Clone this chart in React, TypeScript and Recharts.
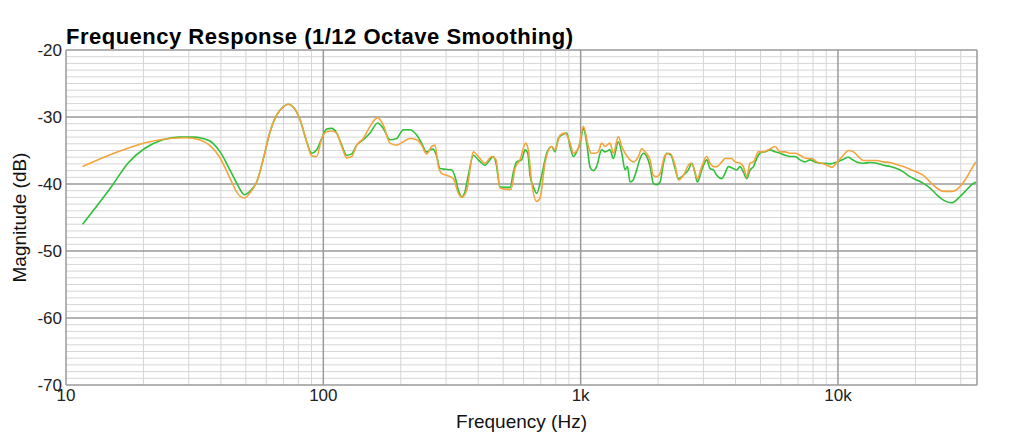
import React from 'react';
import { LineChart, Line, XAxis, YAxis, ReferenceLine, Label } from 'recharts';

// frequency (Hz) / magnitude (dB)
const greenFreq = [
  11.6, 15.2, 17.4, 20.2, 23.8, 27.6, 31.1, 34, 37.2, 40, 43.1, 46.4, 49.3, 52.4, 55.1, 58.5, 62.1, 65.9, 69.9, 73.1,
  76.4, 81.2, 86.2, 90.1, 94.2, 98.6, 103, 107.8, 112.7, 117.9, 123.3, 128.9, 134.8, 143, 151.9, 162.6, 171, 181.5,
  192.8, 204.6, 217, 230.6, 241, 252, 260, 267, 276, 284, 297, 315.5, 325, 334.7, 345, 355.5, 366, 383, 400, 425, 444,
  458, 469, 486, 508, 532, 548, 564, 590, 608, 623, 636, 655, 675, 706, 738, 772, 795, 819, 844, 883, 910, 937, 965,
  995, 1025, 1056, 1088, 1121, 1153, 1207, 1244, 1300, 1340, 1401, 1445, 1488, 1520, 1556, 1600, 1651, 1702, 1754,
  1808, 1861, 1917, 1976, 2036, 2098, 2161, 2245, 2328, 2399, 2508, 2622, 2703, 2784, 2842, 2956, 3090, 3184, 3281,
  3380, 3534, 3640, 3751, 3921, 4040, 4164, 4290, 4421, 4555, 4694, 4831, 4977, 5209, 5446, 5694, 5956, 6229, 6515,
  6812, 7123, 7447, 7790, 8146, 8520, 8908, 9318, 9950, 10500, 10975, 11310, 11826, 12550, 13330, 14150, 15010, 15940,
  16910, 17950, 19050, 20230, 21480, 22800, 24200, 25700, 27700, 29400, 31200, 33100, 34320,
];
const greenDb = [
  -46.0, -40.1, -36.9, -34.7, -33.4, -33.0, -33.0, -33.2, -33.9, -35.4, -37.7, -40.1, -41.6, -40.9, -39.7, -36.2, -32.2,
  -29.7, -28.5, -28.1, -28.5, -30.4, -33.7, -35.4, -34.9, -33.2, -31.8, -31.7, -32.4, -34.2, -35.7, -35.5, -34.2, -33.4,
  -32.4, -30.9, -31.7, -33.4, -33.2, -31.9, -31.9, -32.7, -33.9, -35.2, -34.9, -34.8, -35.9, -37.7, -37.8, -37.9, -38.9,
  -40.9, -41.9, -41.1, -38.7, -35.7, -36.4, -37.2, -36.4, -35.9, -36.9, -40.4, -40.5, -40.5, -38.2, -36.7, -36.4, -34.9,
  -35.4, -38.7, -40.4, -41.4, -38.7, -35.4, -34.4, -35.2, -33.2, -32.7, -32.4, -34.4, -35.9, -35.2, -33.9, -31.7, -33.9,
  -37.5, -38.0, -37.4, -34.9, -35.2, -34.9, -36.2, -33.7, -35.4, -37.9, -37.4, -39.7, -39.4, -37.9, -36.2, -35.4, -35.9,
  -37.4, -39.9, -40.1, -39.7, -36.9, -35.4, -35.7, -37.7, -39.2, -38.7, -37.9, -36.9, -38.4, -39.7, -37.9, -36.4, -37.7,
  -37.9, -38.7, -39.2, -38.4, -37.4, -37.7, -37.9, -37.4, -38.2, -39.2, -37.9, -37.4, -36.2, -35.4, -35.2, -34.9, -35.2,
  -35.4, -35.7, -35.9, -35.9, -36.4, -36.7, -36.4, -36.7, -36.9, -36.9, -37.0, -36.7, -36.3, -36.0, -36.3, -36.7, -36.9,
  -36.8, -36.9, -37.2, -37.4, -37.7, -38.2, -38.9, -39.4, -39.9, -40.6, -41.6, -42.4, -42.8, -42.1, -41.1, -40.1, -39.7,
];

const orangeFreq = [
  11.6, 14.3, 17.6, 21.1, 25.2, 29.3, 33, 36.1, 39.4, 43.1, 46.4, 49.3, 52.4, 55.6, 58.5, 62.1, 65.9, 69.9, 73.1, 76.4,
  81.2, 86.2, 90.1, 94.2, 98.6, 103, 107.8, 112.7, 117.9, 123.3, 128.9, 134.8, 143, 151.9, 162.6, 171, 181.5, 192.8,
  204.6, 217, 230.6, 241, 252, 264, 271.6, 280, 288, 306, 320, 335, 345, 361, 383, 400, 425, 451, 469, 486, 516, 536,
  556, 581, 612, 626, 646, 675, 695, 727, 772, 795, 832, 870, 910, 937, 979, 1025, 1072, 1100, 1133, 1172, 1207, 1244,
  1300, 1340, 1401, 1445, 1488, 1556, 1600, 1677, 1728, 1780, 1861, 1917, 1976, 2036, 2129, 2220, 2328, 2399, 2508,
  2664, 2745, 2842, 2956, 3090, 3184, 3281, 3380, 3534, 3640, 3860, 3980, 4164, 4290, 4421, 4555, 4694, 4905, 5133,
  5370, 5694, 5956, 6229, 6515, 6812, 7123, 7567, 7920, 8270, 8647, 9044, 9460, 9950, 10500, 10975, 11490, 12000,
  12550, 13330, 14150, 15010, 15940, 16910, 17950, 19050, 20230, 21480, 22800, 24200, 25700, 27700, 29400, 31200,
  32540, 34320,
];
const orangeDb = [
  -37.4, -35.9, -34.6, -33.7, -33.2, -33.1, -33.4, -34.2, -35.9, -38.9, -41.4, -42.1, -41.1, -39.3, -36.2, -32.2, -29.7,
  -28.5, -28.1, -28.5, -30.4, -33.7, -35.8, -35.9, -33.2, -32.2, -32.1, -32.4, -34.4, -36.1, -35.9, -34.2, -33.2, -31.4,
  -30.1, -31.2, -33.9, -34.2, -33.7, -33.2, -33.4, -34.2, -35.5, -34.4, -34.2, -37.4, -38.4, -38.8, -39.2, -41.4, -42.0,
  -40.9, -35.2, -35.9, -36.9, -35.9, -36.4, -40.6, -40.8, -40.8, -37.7, -36.4, -33.9, -34.9, -39.9, -42.6, -42.1, -36.9,
  -34.4, -34.9, -32.7, -32.4, -33.9, -35.4, -34.7, -31.4, -34.4, -35.4, -35.4, -35.2, -33.9, -34.4, -33.9, -35.4, -32.9,
  -34.4, -35.4, -36.4, -36.7, -35.9, -34.7, -35.2, -36.4, -38.7, -38.9, -38.4, -35.7, -35.4, -37.2, -39.4, -38.7, -36.9,
  -37.4, -39.2, -37.4, -35.9, -36.9, -37.4, -37.4, -36.7, -36.2, -36.2, -36.7, -36.9, -37.4, -38.9, -36.9, -36.7, -35.2,
  -35.2, -34.9, -34.4, -35.2, -35.2, -35.4, -35.4, -35.7, -36.2, -36.2, -36.7, -36.9, -37.2, -37.5, -36.7, -35.7, -35.0,
  -35.2, -35.9, -36.5, -36.5, -36.5, -36.7, -36.8, -37.1, -37.4, -37.8, -38.2, -38.7, -39.7, -40.6, -41.1, -41.1, -40.6,
  -39.4, -38.2, -36.7,
];

const xTicks = [10, 100, 1000, 10000];
const xTickLabels = ['10', '100', '1k', '10k'];
const yTicks = [-70, -60, -50, -40, -30, -20];
const xMinor = [
  20, 30, 40, 50, 60, 70, 80, 90, 200, 300, 400, 500, 600, 700, 800, 900,
  2000, 3000, 4000, 5000, 6000, 7000, 8000, 9000, 20000, 30000,
];
const yMinor: number[] = [];
for (let v = -69; v < -20; v++) if (v % 10 !== 0) yMinor.push(v);

const X_MAX = 34700;

const greenData = greenFreq.map((f, i) => ({ f, db: greenDb[i] }));
const orangeData = orangeFreq.map((f, i) => ({ f, db: orangeDb[i] }));

const font = '"Liberation Sans", Arial, Helvetica, sans-serif';
const minorColor = '#d6d6d6';
const majorColor = '#9a9a9a';

export default function App() {
  return (
    <div style={{ position: 'absolute', left: 0, top: 0, width: 1024, height: 441, background: '#fff', fontFamily: font }}>
      <div
        style={{
          position: 'absolute',
          left: 66,
          top: 26,
          fontSize: 22,
          lineHeight: '21px',
          fontWeight: 'bold',
          color: '#000',
          whiteSpace: 'nowrap',
          letterSpacing: 0.5,
        }}
      >
        Frequency Response (1/12 Octave Smoothing)
      </div>
      <LineChart width={1024} height={441} margin={{ top: 50, right: 47, bottom: 0, left: 0 }}>
        <XAxis
          type="number"
          dataKey="f"
          scale="log"
          domain={[10, X_MAX]}
          ticks={xTicks}
          tickFormatter={(v: number) => xTickLabels[xTicks.indexOf(v)] ?? String(v)}
          allowDataOverflow
          height={56}
          tickLine={false}
          tickSize={0}
          tickMargin={4}
          axisLine={false}
          tick={{ fill: '#222', fontSize: 17, fontFamily: font }}
        >
          <Label value="Frequency (Hz)" position="insideBottom" offset={13} fill="#111" fontSize={19} fontFamily={font} />
        </XAxis>
        <YAxis
          type="number"
          domain={[-70, -20]}
          ticks={yTicks}
          width={66}
          tickLine={false}
          tickSize={0}
          tickMargin={4}
          axisLine={false}
          allowDataOverflow
          tick={{ fill: '#222', fontSize: 17, fontFamily: font }}
        >
          <Label
            value="Magnitude (dB)"
            angle={-90}
            position="insideLeft"
            offset={19}
            textAnchor="middle"
            fill="#111"
            fontSize={19}
            fontFamily={font}
          />
        </YAxis>

        {xMinor.map((v) => (
          <ReferenceLine key={'xm' + v} x={v} stroke={minorColor} strokeWidth={1} />
        ))}
        {yMinor.map((v) => (
          <ReferenceLine key={'ym' + v} y={v} stroke={minorColor} strokeWidth={1} />
        ))}
        {xTicks.map((v) => (
          <ReferenceLine key={'xM' + v} x={v} stroke={majorColor} strokeWidth={1.5} />
        ))}
        <ReferenceLine x={X_MAX} stroke={majorColor} strokeWidth={1.5} />
        {yTicks.map((v) => (
          <ReferenceLine key={'yM' + v} y={v} stroke={majorColor} strokeWidth={1.5} />
        ))}

        <Line
          data={greenData}
          dataKey="db"
          type="monotone"
          stroke="#2fbf3a"
          strokeWidth={1.6}
          dot={false}
          isAnimationActive={false}
        />
        <Line
          data={orangeData}
          dataKey="db"
          type="monotone"
          stroke="#f4a43c"
          strokeWidth={1.6}
          dot={false}
          isAnimationActive={false}
        />
      </LineChart>
    </div>
  );
}
